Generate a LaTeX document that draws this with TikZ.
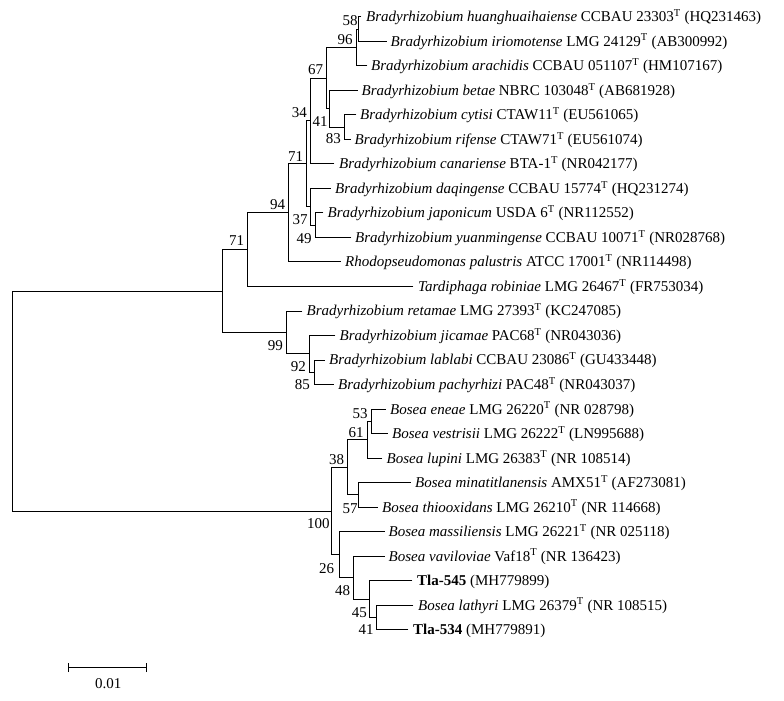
\documentclass[tikz,border=0pt]{standalone}
\usepackage{fontspec}
\setmainfont{Liberation Serif}
\begin{document}
\begin{tikzpicture}[x=1pt,y=-1pt,
  branch/.style={line width=0.85pt,line cap=rect},
  taxon/.style={anchor=base west,inner sep=0pt,font=\fontsize{15}{17}\selectfont},
  boot/.style={inner sep=0pt,font=\fontsize{15}{17}\selectfont}]
\useasboundingbox (0,0) rectangle (784,701);
% leaf branch ends
\coordinate (L1) at (361,16.70);
\coordinate (L2) at (386.5,41.22);
\coordinate (L3) at (367,65.74);
\coordinate (L4) at (357.5,90.26);
\coordinate (L5) at (356,114.78);
\coordinate (L6) at (350.5,139.30);
\coordinate (L7) at (334,163.82);
\coordinate (L8) at (330.5,188.34);
\coordinate (L9) at (323,212.86);
\coordinate (L10) at (351,237.38);
\coordinate (L11) at (340.5,261.90);
\coordinate (L12) at (413,286.42);
\coordinate (L13) at (302,310.94);
\coordinate (L14) at (335,335.46);
\coordinate (L15) at (324.5,359.98);
\coordinate (L16) at (333.5,384.50);
\coordinate (L17) at (385.5,409.02);
\coordinate (L18) at (387.5,433.54);
\coordinate (L19) at (382,458.06);
\coordinate (L20) at (410.5,482.58);
\coordinate (L21) at (377.5,507.10);
\coordinate (L22) at (384.5,531.62);
\coordinate (L23) at (384.5,556.14);
\coordinate (L24) at (412,580.66);
\coordinate (L25) at (413,605.18);
\coordinate (L26) at (408,629.70);
% internal nodes
\coordinate (n58) at (358.7,28.96);
\coordinate (n96) at (356,47.35);
\coordinate (n83) at (344.3,127.04);
\coordinate (n41) at (329.3,108.65);
\coordinate (n67) at (326,78.00);
\coordinate (n34) at (310.7,120.91);
\coordinate (n49) at (315,225.12);
\coordinate (n37) at (310.7,206.73);
\coordinate (n71i) at (306.3,163.82);
\coordinate (n94) at (288.3,212.86);
\coordinate (n71o) at (247.5,249.64);
\coordinate (n85) at (314,372.24);
\coordinate (n92) at (309.3,353.85);
\coordinate (n99) at (286.7,332.40);
\coordinate (nB) at (222.5,291.02);
\coordinate (n53) at (371,421.28);
\coordinate (n61) at (367.7,439.67);
\coordinate (n57) at (358.3,494.84);
\coordinate (n38) at (347.7,467.26);
\coordinate (n41b) at (376.7,617.44);
\coordinate (n45) at (369,599.05);
\coordinate (n48) at (353.3,577.60);
\coordinate (n26) at (339,554.61);
\coordinate (n100) at (331,510.94);
\coordinate (root) at (12.3,400.98);
% branches
\draw[branch] (n58) |- (L1) (n58) |- (L2);
\draw[branch] (n96) |- (n58) (n96) |- (L3);
\draw[branch] (n83) |- (L5) (n83) |- (L6);
\draw[branch] (n41) |- (L4) (n41) |- (n83);
\draw[branch] (n67) |- (n96) (n67) |- (n41);
\draw[branch] (n34) |- (n67) (n34) |- (L7);
\draw[branch] (n49) |- (L9) (n49) |- (L10);
\draw[branch] (n37) |- (L8) (n37) |- (n49);
\draw[branch] (n71i) |- (n34) (n71i) |- (n37);
\draw[branch] (n94) |- (n71i) (n94) |- (L11);
\draw[branch] (n71o) |- (n94) (n71o) |- (L12);
\draw[branch] (n85) |- (L15) (n85) |- (L16);
\draw[branch] (n92) |- (L14) (n92) |- (n85);
\draw[branch] (n99) |- (L13) (n99) |- (n92);
\draw[branch] (nB) |- (n71o) (nB) |- (n99);
\draw[branch] (n53) |- (L17) (n53) |- (L18);
\draw[branch] (n61) |- (n53) (n61) |- (L19);
\draw[branch] (n57) |- (L20) (n57) |- (L21);
\draw[branch] (n38) |- (n61) (n38) |- (n57);
\draw[branch] (n41b) |- (L25) (n41b) |- (L26);
\draw[branch] (n45) |- (L24) (n45) |- (n41b);
\draw[branch] (n48) |- (L23) (n48) |- (n45);
\draw[branch] (n26) |- (L22) (n26) |- (n48);
\draw[branch] (n100) |- (n38) (n100) |- (n26);
\draw[branch] (root) |- (nB) (root) |- (n100);
% taxa
\node[taxon] (t1) at ([xshift=5pt,yshift=-5pt]L1) {\textit{Bradyrhizobium huanghuaihaiense} CCBAU 23303\textsuperscript{T} (HQ231463)};
\node[taxon] (t2) at ([xshift=4pt,yshift=-5pt]L2) {\textit{Bradyrhizobium iriomotense} LMG 24129\textsuperscript{T} (AB300992)};
\node[taxon] (t3) at ([xshift=4pt,yshift=-5pt]L3) {\textit{Bradyrhizobium arachidis} CCBAU 051107\textsuperscript{T} (HM107167)};
\node[taxon] (t4) at ([xshift=4pt,yshift=-5pt]L4) {\textit{Bradyrhizobium betae} NBRC 103048\textsuperscript{T} (AB681928)};
\node[taxon] (t5) at ([xshift=4pt,yshift=-5pt]L5) {\textit{Bradyrhizobium cytisi} CTAW11\textsuperscript{T} (EU561065)};
\node[taxon] (t6) at ([xshift=4pt,yshift=-5pt]L6) {\textit{Bradyrhizobium rifense} CTAW71\textsuperscript{T} (EU561074)};
\node[taxon] (t7) at ([xshift=5pt,yshift=-5pt]L7) {\textit{Bradyrhizobium canariense} BTA-1\textsuperscript{T} (NR042177)};
\node[taxon] (t8) at ([xshift=4.5pt,yshift=-5pt]L8) {\textit{Bradyrhizobium daqingense} CCBAU 15774\textsuperscript{T} (HQ231274)};
\node[taxon] (t9) at ([xshift=4.5pt,yshift=-5pt]L9) {\textit{Bradyrhizobium japonicum} USDA 6\textsuperscript{T} (NR112552)};
\node[taxon] (t10) at ([xshift=4pt,yshift=-5pt]L10) {\textit{Bradyrhizobium yuanmingense} CCBAU 10071\textsuperscript{T} (NR028768)};
\node[taxon] (t11) at ([xshift=4.5pt,yshift=-5pt]L11) {\textit{Rhodopseudomonas palustris} ATCC 17001\textsuperscript{T} (NR114498)};
\node[taxon] (t12) at ([xshift=5pt,yshift=-5pt]L12) {\textit{Tardiphaga robiniae} LMG 26467\textsuperscript{T} (FR753034)};
\node[taxon] (t13) at ([xshift=4.5pt,yshift=-5pt]L13) {\textit{Bradyrhizobium retamae} LMG 27393\textsuperscript{T} (KC247085)};
\node[taxon] (t14) at ([xshift=4.5pt,yshift=-5pt]L14) {\textit{Bradyrhizobium jicamae} PAC68\textsuperscript{T} (NR043036)};
\node[taxon] (t15) at ([xshift=4.5pt,yshift=-5pt]L15) {\textit{Bradyrhizobium lablabi} CCBAU 23086\textsuperscript{T} (GU433448)};
\node[taxon] (t16) at ([xshift=4.5pt,yshift=-5pt]L16) {\textit{Bradyrhizobium pachyrhizi} PAC48\textsuperscript{T} (NR043037)};
\node[taxon] (t17) at ([xshift=4.5pt,yshift=-5pt]L17) {\textit{Bosea eneae} LMG 26220\textsuperscript{T} (NR 028798)};
\node[taxon] (t18) at ([xshift=4.5pt,yshift=-5pt]L18) {\textit{Bosea vestrisii} LMG 26222\textsuperscript{T} (LN995688)};
\node[taxon] (t19) at ([xshift=4.5pt,yshift=-5pt]L19) {\textit{Bosea lupini} LMG 26383\textsuperscript{T} (NR 108514)};
\node[taxon] (t20) at ([xshift=4.5pt,yshift=-5pt]L20) {\textit{Bosea minatitlanensis} AMX51\textsuperscript{T} (AF273081)};
\node[taxon] (t21) at ([xshift=4.5pt,yshift=-5pt]L21) {\textit{Bosea thiooxidans} LMG 26210\textsuperscript{T} (NR 114668)};
\node[taxon] (t22) at ([xshift=4pt,yshift=-5pt]L22) {\textit{Bosea massiliensis} LMG 26221\textsuperscript{T} (NR 025118)};
\node[taxon] (t23) at ([xshift=4pt,yshift=-5pt]L23) {\textit{Bosea vaviloviae} Vaf18\textsuperscript{T} (NR 136423)};
\node[taxon] (t24) at ([xshift=5pt,yshift=-5pt]L24) {\textbf{Tla-545} (MH779899)};
\node[taxon] (t25) at ([xshift=5pt,yshift=-5pt]L25) {\textit{Bosea lathyri} LMG 26379\textsuperscript{T} (NR 108515)};
\node[taxon] (t26) at ([xshift=5pt,yshift=-5pt]L26) {\textbf{Tla-534} (MH779891)};
% bootstrap values
\node[boot] (b58) at (350,20.7) {58};
\node[boot] (b96) at (345,40) {96};
\node[boot] (b67) at (315.7,70) {67};
\node[boot] (b41) at (320,122) {41};
\node[boot] (b83) at (333.3,139) {83};
\node[boot] (b34) at (299.3,112.7) {34};
\node[boot] (b71i) at (295.7,156.7) {71};
\node[boot] (b37) at (300,219.3) {37};
\node[boot] (b49) at (304,238.3) {49};
\node[boot] (b94) at (277.7,205) {94};
\node[boot] (b71o) at (236.7,241) {71};
\node[boot] (b99) at (275.3,345.7) {99};
\node[boot] (b92) at (298.3,366.7) {92};
\node[boot] (b85) at (302.3,385) {85};
\node[boot] (b53) at (360,413.3) {53};
\node[boot] (b61) at (356,432.3) {61};
\node[boot] (b38) at (336.7,460) {38};
\node[boot] (b57) at (350,508.3) {57};
\node[boot] (b100) at (318.3,524) {100};
\node[boot] (b26) at (326.7,568.3) {26};
\node[boot] (b48) at (342.7,591) {48};
\node[boot] (b45) at (359.3,612.7) {45};
\node[boot] (b41b) at (366,630) {41};
% scale bar
\coordinate (sbL) at (68.3,667.7);
\coordinate (sbR) at (146,667.7);
\draw[branch,line cap=butt] (sbL) -- (sbR);
\draw[branch,line cap=butt] ([yshift=-4.5pt]sbL) -- ([yshift=4.5pt]sbL);
\draw[branch,line cap=butt] ([yshift=-4.5pt]sbR) -- ([yshift=4.5pt]sbR);
\node[boot] (sblab) at (108.3,683.3) {0.01};
\end{tikzpicture}
\end{document}
